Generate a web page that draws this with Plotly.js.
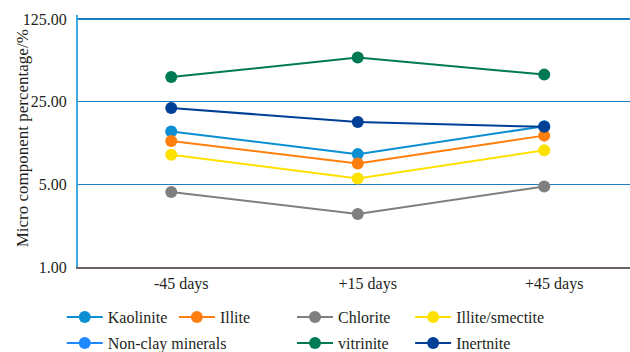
<!DOCTYPE html>
<html>
<head>
<meta charset="utf-8">
<script src="https://cdn.plot.ly/plotly-3.0.1.min.js"></script>
<style>
  html, body { margin: 0; padding: 0; background: #fff; }
  #chart { width: 630px; height: 352px; }
</style>
</head>
<body>
<div id="chart"></div>
<script>
// Sampling times
const periods = ["-45 days", "+15 days", "+45 days"];

// Micro component percentages (%) per component
const kaolinite      = [14.0, 9.0, 15.5];
const illite         = [11.6, 7.5, 12.9];
const chlorite       = [4.3, 2.8, 4.8];
const illiteSmectite = [8.9, 5.6, 9.7];
const nonClay        = [null, null, null];
const vitrinite      = [40.3, 59.0, 42.3];
const inertnite      = [22.1, 16.8, 15.3];

// Log-scale tick values and their labels
const yTicks = [1, 5, 25, 125];
const yTickText = ["1.00", "5.00", "25.00", "125.00"];
const yTitle = "Micro component percentage/%";

const serif = "Times New Roman";
const textColor = "#231f20";

function series(name, y, color, legend) {
  return {
    type: "scatter",
    mode: "lines+markers",
    name: name,
    x: periods,
    y: y,
    line: { color: color, width: 2 },
    marker: { color: color, size: 12 },
    legend: legend,
    cliponaxis: false
  };
}

const traces = [
  series("Kaolinite", kaolinite, "#0a8fd3", "legend"),
  series("Illite", illite, "#ff7f0e", "legend2"),
  series("Chlorite", chlorite, "#7f7f7f", "legend3"),
  series("Illite/smectite", illiteSmectite, "#ffe100", "legend4"),
  series("Non-clay minerals", nonClay, "#1e88ff", "legend5"),
  series("vitrinite", vitrinite, "#007a55", "legend6"),
  series("Inertnite", inertnite, "#003f96", "legend7")
];

// One key entry per cell of the two-row key
function keyCell(x, y) {
  return {
    orientation: "h",
    xanchor: "left",
    yanchor: "middle",
    xref: "container",
    yref: "container",
    x: x,
    y: y,
    bgcolor: "rgba(0,0,0,0)",
    font: { family: serif, size: 16, color: textColor },
    itemwidth: 36
  };
}

const row1 = 0.099, row2 = 0.025;

const layout = {
  width: 630,
  height: 352,
  margin: { l: 78, r: 0, t: 15, b: 85 },
  paper_bgcolor: "#ffffff",
  plot_bgcolor: "#ffffff",
  font: { family: serif, size: 16, color: textColor },
  xaxis: {
    type: "category",
    range: [-0.5, 2.46],
    showgrid: false,
    showline: true,
    linecolor: "#6b6360",
    linewidth: 1.5,
    ticks: "",
    ticklabelstandoff: 1,
    ticklabelshift: 10,
    tickfont: { family: serif, size: 16, color: textColor },
    zeroline: false
  },
  yaxis: {
    type: "log",
    range: [0, Math.log10(135)],
    tickvals: yTicks,
    ticktext: yTickText,
    showgrid: true,
    gridcolor: "#1a7dc2",
    gridwidth: 1.3,
    showline: true,
    linecolor: "#41a8df",
    linewidth: 2,
    ticks: "",
    ticklabelstandoff: 6,
    tickfont: { family: serif, size: 16, color: textColor },
    zeroline: false
  },
  annotations: [{
    text: yTitle,
    xref: "paper",
    yref: "paper",
    x: -0.1,
    y: 0.51,
    xanchor: "center",
    yanchor: "middle",
    textangle: -90,
    showarrow: false,
    font: { family: serif, size: 17, color: textColor }
  }],
  showlegend: true,
  legend:  keyCell(0.098, row1),
  legend2: keyCell(0.276, row1),
  legend3: keyCell(0.4635, row1),
  legend4: keyCell(0.651, row1),
  legend5: keyCell(0.098, row2),
  legend6: keyCell(0.4635, row2),
  legend7: keyCell(0.651, row2)
};

Plotly.newPlot("chart", traces, layout, { displayModeBar: false, staticPlot: true });
</script>
</body>
</html>
